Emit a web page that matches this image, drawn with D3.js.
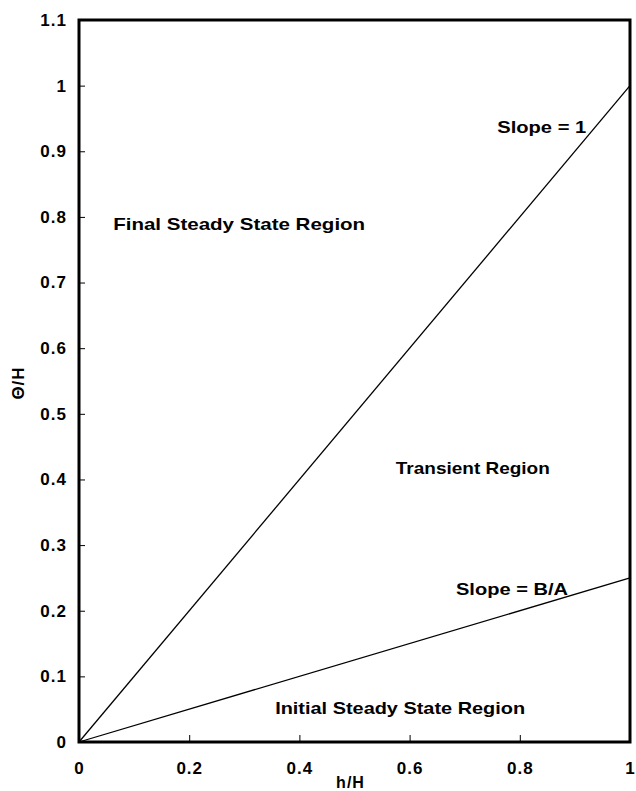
<!DOCTYPE html>
<html>
<head>
<meta charset="utf-8">
<script src="https://cdn.jsdelivr.net/npm/d3@7"></script>
<style>
  html, body { margin: 0; padding: 0; background: #fff; }
  svg text { font-family: "Liberation Sans", Arial, Helvetica, sans-serif; font-weight: bold; fill: #000; }
</style>
</head>
<body>
<svg id="chart" width="636" height="791"></svg>
<script>
// Boundary lines through the origin: theta/H = slope * h/H
const lineNames = ["Slope = 1", "Slope = B/A"];
const lineSlopes = [1, 0.25];
const lineX = [0, 1];

// Axis ticks
const xTicks = [0, 0.2, 0.4, 0.6, 0.8, 1];
const yTicks = [0, 0.1, 0.2, 0.3, 0.4, 0.5, 0.6, 0.7, 0.8, 0.9, 1, 1.1];
const xTickLabels = ["0", "0.2", "0.4", "0.6", "0.8", "1"];
const yTickLabels = ["0", "0.1", "0.2", "0.3", "0.4", "0.5", "0.6", "0.7", "0.8", "0.9", "1", "1.1"];

// Region annotations, anchored in data coordinates
const regionNames = ["Final Steady State Region", "Transient Region", "Initial Steady State Region"];
const regionX = [0.062, 0.575, 0.356];
const regionY = [0.780, 0.408, 0.043];
const regionWidths = [252, 154, 250];

const svg = d3.select("#chart");
const margin = { left: 79, right: 6, top: 20, bottom: 49 };
const W = 636, H = 791;

const x = d3.scaleLinear().domain([0, 1]).range([margin.left, W - margin.right]);
const y = d3.scaleLinear().domain([0, 1.1]).range([H - margin.bottom, margin.top]);

// Axes with short inward ticks
const xAxis = d3.axisBottom(x).tickValues(xTicks).tickSize(-7).tickPadding(20)
  .tickFormat((d, i) => xTickLabels[i]);
const yAxis = d3.axisLeft(y).tickValues(yTicks).tickSize(-6).tickPadding(12)
  .tickFormat((d, i) => yTickLabels[i]);

const gx = svg.append("g").attr("transform", `translate(0,${y(0)})`).call(xAxis);
const gy = svg.append("g").attr("transform", `translate(${x(0)},0)`).call(yAxis);
[gx, gy].forEach(g => {
  g.select(".domain").remove();
  g.selectAll(".tick line").attr("stroke", "#000").attr("stroke-width", 1);
  g.selectAll(".tick text")
    .style("font-size", "17px")
    .style("letter-spacing", "1px")
    .attr("font-family", null);
});
gy.selectAll(".tick text").attr("dx", "0");
// endpoint ticks coincide with the frame
gx.selectAll(".tick line").filter(d => d === 0 || d === 1).remove();
gy.selectAll(".tick line").filter(d => d === 0 || d === 1.1).remove();

// Frame
svg.append("rect")
  .attr("x", x(0)).attr("y", y(1.1))
  .attr("width", x(1) - x(0)).attr("height", y(0) - y(1.1))
  .attr("fill", "none").attr("stroke", "#000").attr("stroke-width", 3);

// Boundary lines
const line = d3.line().x(d => x(d[0])).y(d => y(d[1]));
lineSlopes.forEach(s => {
  svg.append("path")
    .datum(lineX.map(v => [v, s * v]))
    .attr("d", line)
    .attr("fill", "none").attr("stroke", "#000").attr("stroke-width", 1.3);
});

// Line labels
svg.append("text").attr("x", x(0.759)).attr("y", y(0.928))
  .style("font-size", "17px")
  .attr("textLength", 89).attr("lengthAdjust", "spacingAndGlyphs")
  .text(lineNames[0]);
svg.append("text").attr("x", x(0.8875) - 112).attr("y", y(0.224))
  .style("font-size", "17px")
  .attr("textLength", 112).attr("lengthAdjust", "spacingAndGlyphs")
  .text(lineNames[1]);

// Region labels
regionNames.forEach((t, i) => {
  svg.append("text").attr("x", x(regionX[i])).attr("y", y(regionY[i]))
    .style("font-size", "17px")
    .attr("textLength", regionWidths[i]).attr("lengthAdjust", "spacingAndGlyphs")
    .text(t);
});

// Axis titles
svg.append("text").attr("x", x(0.5) - 4).attr("y", 788)
  .attr("text-anchor", "middle").style("font-size", "16px")
  .style("letter-spacing", "1px").text("h/H");
svg.append("text").attr("transform", `translate(24,383) rotate(-90)`)
  .attr("text-anchor", "middle").style("font-size", "17px")
  .style("letter-spacing", "1px").text("Θ/H");
</script>
</body>
</html>
